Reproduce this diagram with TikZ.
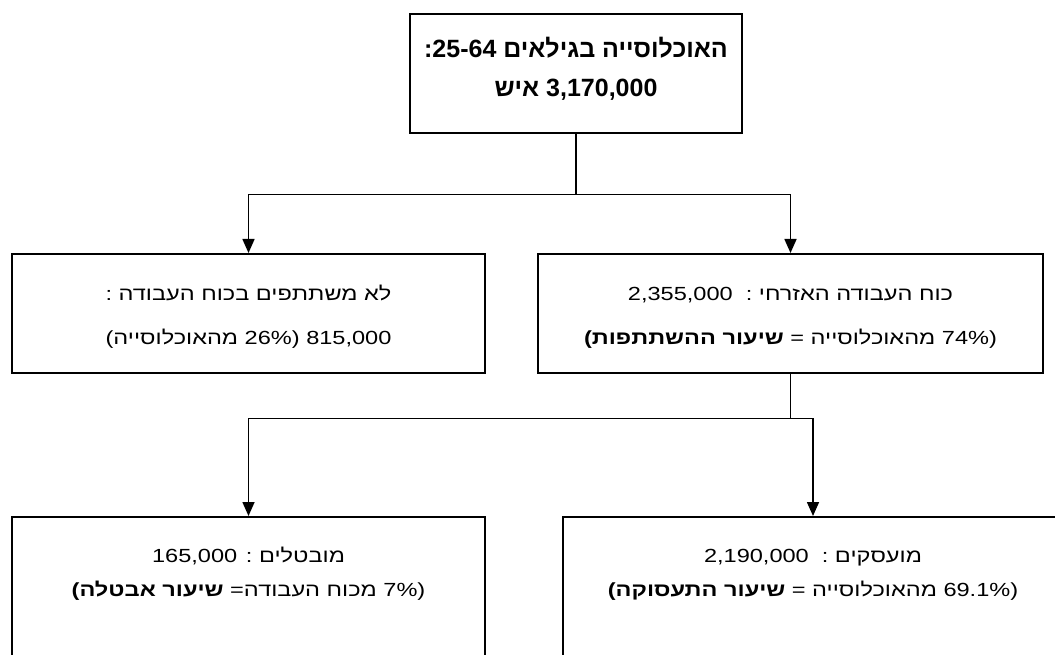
\documentclass[tikz,border=0pt]{standalone}
\usepackage{fontspec}
\setmainfont{Liberation Sans}
\newfontfamily\hebfont[Script=Hebrew,FakeStretch=1.24]{Liberation Sans}
\newfontfamily\titlefont[Script=Hebrew]{Liberation Sans}
\TeXXeTstate=1
\usetikzlibrary{arrows.meta}
\begin{document}
\begin{tikzpicture}[x=1pt,y=-1pt,
    box/.style={draw,line width=1.6pt,inner sep=0pt,anchor=north,align=center},
    midbox/.style={box,minimum height=119pt,text height=91pt,text depth=28pt,
      font=\hebfont\fontsize{19}{44}\selectfont},
    lowbox/.style={box,text height=80pt,text depth=105pt,
      font=\hebfont\fontsize{19}{34}\selectfont},
    link/.style={line width=1.6pt},
    arr/.style={link,-{Triangle[width=12pt,length=14pt]}}]
  \clip (0,0) rectangle (1055,655);
  % top box
  \node[box,minimum width=332pt,text height=83pt,text depth=36pt,
    font=\titlefont\bfseries\fontsize{25}{39}\selectfont] (pop) at (576,13)
    {\beginR האוכלוסייה בגילאים \beginL25-64\endL:\endR\\
     \beginR\beginL3,170,000\endL{} איש\endR};
  % second row
  \node[midbox,minimum width=473pt] (outlf) at (248.5,253)
    {\beginR לא משתתפים בכוח העבודה :\endR\\
     \beginR\beginL815,000\endL{} (\beginL26\%\endL{} מהאוכלוסייה)\endR};
  \node[midbox,minimum width=505pt] (civlf) at (790.5,253)
    {\beginR כוח העבודה האזרחי :\ \ \beginL2,355,000\endL\endR\\
     \beginR(\beginL74\%\endL{} מהאוכלוסייה = \textbf{שיעור ההשתתפות)}\endR};
  % third row
  \node[lowbox,minimum width=473pt] (unemp) at (248.5,516)
    {\beginR מובטלים : \beginL165,000\endL\endR\\
     \beginR(\beginL7\%\endL{} מכוח העבודה= \textbf{שיעור אבטלה)}\endR};
  \node[lowbox,minimum width=500pt] (emp) at (813,516)
    {\beginR מועסקים :\ \ \beginL2,190,000\endL\endR\\
     \beginR(\beginL69.1\%\endL{} מהאוכלוסייה = \textbf{שיעור התעסוקה)}\endR};
  % connectors
  \path (pop.south) ++(0,61) coordinate (fork1);
  \draw[link] (pop.south) -- (fork1);
  \draw[arr] (fork1) -| (outlf.north);
  \draw[arr] (fork1) -| (civlf.north);
  \path (civlf.south) ++(0,45) coordinate (fork2);
  \draw[link] (civlf.south) -- (fork2);
  \draw[arr] (fork2) -| (unemp.north);
  \draw[arr] (fork2) -| (emp.north);
\end{tikzpicture}
\end{document}
